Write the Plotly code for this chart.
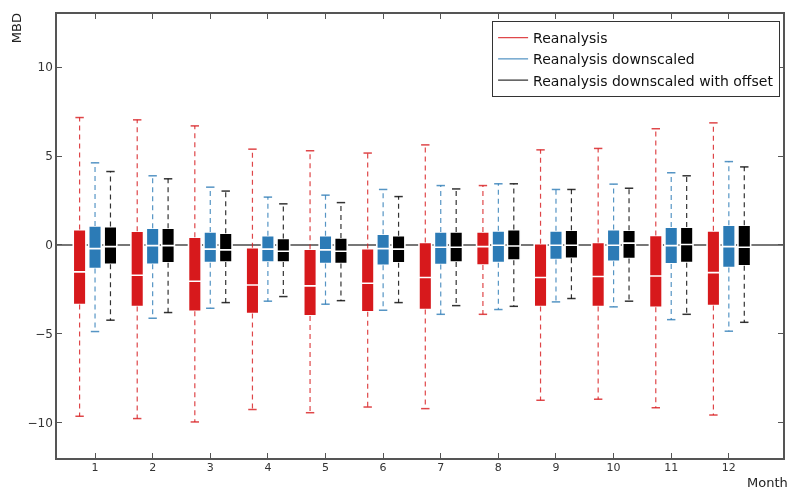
import plotly.graph_objects as go

months = list(range(1, 13))
series_names = ["Reanalysis", "Reanalysis downscaled", "Reanalysis downscaled with offset"]

# Reanalysis
r_low = [-9.65, -9.78, -9.97, -9.27, -9.45, -9.13, -9.22, -3.91, -8.75, -8.69, -9.17, -9.58]
r_q1 = [-3.36, -3.47, -3.74, -3.86, -4.00, -3.77, -3.64, -1.13, -3.47, -3.47, -3.51, -3.42]
r_med = [-1.52, -1.71, -2.05, -2.26, -2.31, -2.16, -1.84, -0.10, -1.84, -1.78, -1.75, -1.56]
r_q3 = [0.86, 0.77, 0.43, -0.16, -0.24, -0.21, 0.13, 0.73, 0.07, 0.13, 0.53, 0.79]
r_high = [7.17, 7.04, 6.70, 5.39, 5.30, 5.17, 5.63, 3.34, 5.35, 5.43, 6.54, 6.87]

# Reanalysis downscaled
b_low = [-4.88, -4.13, -3.57, -3.17, -3.34, -3.68, -3.91, -3.64, -3.21, -3.49, -4.21, -4.86]
b_q1 = [-1.33, -1.09, -1.00, -0.96, -1.05, -1.15, -1.11, -1.00, -0.83, -0.92, -1.07, -1.28]
b_med = [-0.21, -0.04, -0.24, -0.24, -0.28, -0.21, -0.13, -0.02, -0.02, -0.02, -0.04, -0.10]
b_q3 = [1.07, 0.94, 0.73, 0.51, 0.51, 0.60, 0.73, 0.79, 0.79, 0.86, 1.00, 1.11]
b_high = [4.62, 3.89, 3.25, 2.69, 2.80, 3.12, 3.34, 3.44, 3.12, 3.42, 4.06, 4.69]

# Reanalysis downscaled with offset
k_low = [-4.24, -3.81, -3.25, -2.91, -3.14, -3.25, -3.42, -3.46, -3.02, -3.17, -3.91, -4.36]
k_q1 = [-1.09, -1.01, -0.96, -0.96, -1.05, -1.01, -0.96, -0.86, -0.75, -0.77, -1.00, -1.18]
k_med = [-0.10, -0.04, -0.28, -0.36, -0.36, -0.24, -0.13, -0.06, -0.02, 0.10, 0.02, -0.13]
k_q3 = [1.03, 0.94, 0.66, 0.36, 0.39, 0.51, 0.73, 0.86, 0.83, 0.83, 1.00, 1.11]
k_high = [4.13, 3.72, 3.03, 2.31, 2.38, 2.72, 3.15, 3.44, 3.12, 3.19, 3.89, 4.39]

x_tick_labels = [str(m) for m in months]
y_tick_vals = [-10, -5, 0, 5, 10]

colors = ["#d7191c", "#2c7bb6", "#000000"]
offsets = [-0.268, 0.0, 0.268]
box_width = 0.22

data = [
    (r_low, r_q1, r_med, r_q3, r_high),
    (b_low, b_q1, b_med, b_q3, b_high),
    (k_low, k_q1, k_med, k_q3, k_high),
]

fig = go.Figure()

for (low, q1, med, q3, high), col, off, name in zip(data, colors, offsets, series_names):
    xs = [m + off for m in months]
    # dashed whiskers
    wx, wy = [], []
    for x, lo, a, b, hi in zip(xs, low, q1, q3, high):
        wx += [x, x, None, x, x, None]
        wy += [b, hi, None, a, lo, None]
    fig.add_trace(go.Scatter(x=wx, y=wy, mode="lines",
                             line=dict(color=col, width=1.2, dash="5px,4px"),
                             opacity=0.8, showlegend=False, hoverinfo="skip"))
    # caps
    fig.add_trace(go.Scatter(x=xs + xs, y=high + low, mode="markers",
                             marker=dict(symbol="line-ew", size=6,
                                         line=dict(color=col, width=1.5)),
                             opacity=0.8, showlegend=False, hoverinfo="skip"))
    # boxes
    fig.add_trace(go.Box(x=xs, q1=q1, median=med, q3=q3,
                         lowerfence=q1, upperfence=q3,
                         width=box_width, whiskerwidth=0,
                         fillcolor=col, line=dict(color="white", width=1.6),
                         showlegend=False, name=name))
    # legend entry
    fig.add_trace(go.Scatter(x=[None], y=[None], mode="lines",
                             line=dict(color=col, width=1), name=name))

fig.update_layout(
    width=787, height=490,
    margin=dict(l=57, r=4, t=14, b=32, autoexpand=False),
    paper_bgcolor="white", plot_bgcolor="white",
    boxmode="overlay",
    font=dict(family="DejaVu Sans", size=11, color="#333333"),
    legend=dict(x=0.996, y=0.984, xanchor="right", yanchor="top",
                bgcolor="white", bordercolor="#333333", borderwidth=1,
                font=dict(family="DejaVu Sans", size=14, color="#111111"),
                tracegroupgap=0, itemwidth=30),
    xaxis=dict(range=[0.34, 12.94], tickmode="array", tickvals=months,
               ticktext=x_tick_labels, ticks="inside", ticklen=5,
               tickcolor="#555555", showline=True, linecolor="#555555",
               linewidth=1.5, mirror="ticks", showgrid=False, zeroline=False,
               automargin=False, ticklabelstandoff=-2,
               tickfont=dict(size=11, color="#333333")),
    yaxis=dict(range=[-12, 13], tickmode="array", tickvals=y_tick_vals,
               ticks="inside", ticklen=5, tickcolor="#555555",
               showline=True, linecolor="#555555", linewidth=1.5,
               mirror="ticks", showgrid=False, zeroline=True,
               zerolinecolor="#777777", zerolinewidth=1.5, automargin=False,
               tickfont=dict(size=12, color="#333333")),
    annotations=[
        dict(text="MBD", xref="paper", yref="paper", x=-0.0565, y=0.968,
             xanchor="center", yanchor="middle",
             textangle=-90, showarrow=False, font=dict(size=13, color="#222222")),
        dict(text="Month", xref="paper", yref="paper", x=0.978, y=-0.0563,
             xanchor="center", yanchor="middle",
             showarrow=False, font=dict(size=13, color="#222222")),
    ],
)

fig.write_html("out.html",
               config={"displayModeBar": False},
               post_script="document.body.style.margin='0';document.body.style.overflow='hidden';")
